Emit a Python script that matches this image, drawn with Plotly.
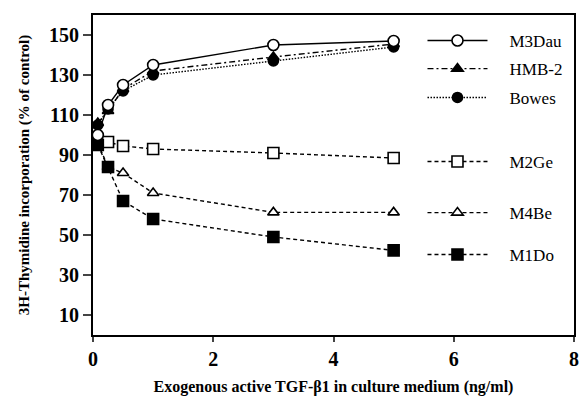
import plotly.graph_objects as go

x_dose = [0.08, 0.25, 0.5, 1, 3, 5]

series_names = ["M3Dau", "HMB-2", "Bowes", "M2Ge", "M4Be", "M1Do"]
m3dau = [100, 115, 125, 135, 145, 147]
hmb2 = [106, 112, 123, 132, 139, 145.5]
bowes = [105, 113, 122, 130, 137, 144]
m2ge = [97, 96.5, 94.5, 93, 91, 88.5]
m4be = [96, 84, 81, 71, 61.3, 61.3]
m1do = [95, 84, 67, 58, 49, 42.3]

x_ticks = [0, 2, 4, 6, 8]
y_ticks = [10, 30, 50, 70, 90, 110, 130, 150]

values = [m3dau, hmb2, bowes, m2ge, m4be, m1do]
dashes = ["solid", "6px,3px,2px,3px", "1.5px,1.5px", "4px,3px", "4px,3px", "4px,3px"]
symbols = ["circle", "triangle-up", "circle", "square", "triangle-up", "square"]
fills = ["white", "black", "black", "white", "white", "black"]
msizes = [11, 10, 10, 11, 10, 11]
legend_y = [0.919, 0.831, 0.741, 0.541, 0.381, 0.25]

fig = go.Figure()
order = [3, 4, 5, 2, 1, 0]
for i in order:
    fig.add_trace(go.Scatter(
        x=x_dose, y=values[i], name="\u2002\u2002" + series_names[i], mode="lines+markers",
        line=dict(color="black", width=1.4, dash=dashes[i]),
        marker=dict(symbol=symbols[i], size=msizes[i], color=fills[i],
                    line=dict(color="black", width=1.6)),
        legend="legend" if i == 0 else f"legend{i+1}",
    ))

font_family = "Liberation Serif, DejaVu Serif, serif"
layout_legends = {}
for i in range(6):
    key = "legend" if i == 0 else f"legend{i+1}"
    layout_legends[key] = dict(
        x=0.685, y=legend_y[i], xanchor="left", yanchor="middle",
        bgcolor="rgba(0,0,0,0)", borderwidth=0, itemwidth=60,
        font=dict(family=font_family, size=17, color="black"),
    )

fig.update_layout(
    width=580, height=400,
    margin=dict(l=93, r=6, t=15, b=65),
    paper_bgcolor="white", plot_bgcolor="white",
    template="none",
    showlegend=True,
    font=dict(family=font_family, color="black"),
    **layout_legends,
)

fig.update_xaxes(
    range=[0, 8], tickvals=x_ticks, ticks="outside", ticklen=5, tickwidth=1.5,
    showline=True, linewidth=2, linecolor="black", mirror=True,
    showgrid=False, zeroline=False, automargin=False, ticklabeloverflow="allow",
    tickfont=dict(family=font_family, size=20, weight="bold"),
    title=dict(text="Exogenous active TGF-β1 in culture medium (ng/ml)",
               font=dict(family=font_family, size=16, weight="bold"), standoff=12),
)
fig.update_yaxes(
    range=[0, 160], tickvals=y_ticks, ticks="outside", ticklen=8, tickwidth=1.5,
    showline=True, linewidth=2, linecolor="black", mirror=True,
    showgrid=False, zeroline=False, automargin=False,
    tickfont=dict(family=font_family, size=20, weight="bold"),
    title=dict(text="3H-Thymidine incorporation (% of control)",
               font=dict(family=font_family, size=15, weight="bold"), standoff=16),
)

fig.write_html("out.html")
